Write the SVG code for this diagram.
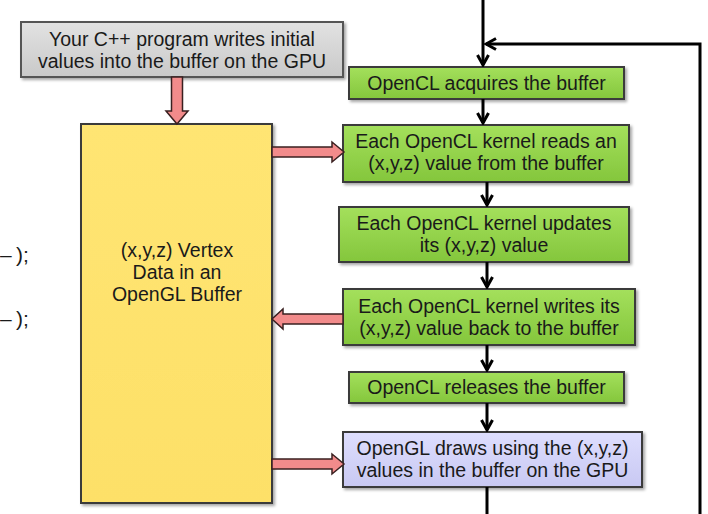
<svg xmlns="http://www.w3.org/2000/svg" width="708" height="514" viewBox="0 0 708 514">
<defs>
<linearGradient id="gGreen" x1="0" y1="0" x2="0" y2="1"><stop offset="0" stop-color="#a4e05c"/><stop offset="1" stop-color="#84c63c"/></linearGradient>
<linearGradient id="gGray" x1="0" y1="0" x2="0" y2="1"><stop offset="0" stop-color="#e2e2e2"/><stop offset="1" stop-color="#c9c9c9"/></linearGradient>
<linearGradient id="gLav" x1="0" y1="0" x2="0" y2="1"><stop offset="0" stop-color="#dedefe"/><stop offset="1" stop-color="#c8c8f2"/></linearGradient>
<linearGradient id="gYel" x1="0" y1="0" x2="0" y2="1"><stop offset="0" stop-color="#ffe573"/><stop offset="1" stop-color="#fde068"/></linearGradient>
<filter id="sh" x="-5%" y="-5%" width="115%" height="125%"><feDropShadow dx="2" dy="2" stdDeviation="1.5" flood-color="#000" flood-opacity="0.35"/></filter>
<marker id="ah" viewBox="0 0 14 14" markerWidth="14" markerHeight="14" refX="12" refY="7" orient="auto" markerUnits="userSpaceOnUse"><path d="M2,1.5 L12,7 L2,12.5" fill="none" stroke="#000" stroke-width="3"/></marker>
</defs>
<style>
.box{stroke:#3a3a3a;stroke-width:2;filter:url(#sh)}
.green{fill:url(#gGreen)}
.gray{fill:url(#gGray);stroke:#555}
.lav{fill:url(#gLav)}
.yel{fill:url(#gYel)}
.t{font-family:"Liberation Sans",Arial,sans-serif;font-size:19.5px;fill:#1a1a1a;text-anchor:middle}
.code{font-family:"Liberation Sans",Arial,sans-serif;font-size:21px;fill:#1a1a1a}
.flow{fill:none;stroke:#000;stroke-width:3}
.red{fill:#f28b8b;stroke:#3a2020;stroke-width:1.5;stroke-linejoin:miter}
</style>
<rect width="708" height="514" fill="#fff"/>

<g id="code-fragments">
<text class="code" y="262"><tspan x="0">–</tspan><tspan x="16">);</tspan></text>
<text class="code" y="326"><tspan x="0">–</tspan><tspan x="16">);</tspan></text>
</g>

<g id="cpp-program">
<rect class="box gray" x="21" y="22" width="322" height="55"/>
<text class="t" x="182" y="46">Your C++ program writes initial</text>
<text class="t" x="182" y="68">values into the buffer on the GPU</text>
</g>

<g id="vertex-buffer">
<rect class="box yel" x="81" y="124" width="191" height="379"/>
<text class="t" x="177" y="257">(x,y,z) Vertex</text>
<text class="t" x="177" y="279">Data in an</text>
<text class="t" x="177" y="301">OpenGL Buffer</text>
</g>

<g id="acquire">
<rect class="box green" x="349" y="67" width="275" height="32"/>
<text class="t" x="486.5" y="90">OpenCL acquires the buffer</text>
</g>

<g id="read">
<rect class="box green" x="343" y="125" width="286" height="57"/>
<text class="t" x="486" y="148">Each OpenCL kernel reads an</text>
<text class="t" x="486" y="170">(x,y,z) value from the buffer</text>
</g>

<g id="update">
<rect class="box green" x="339" y="207" width="290" height="55"/>
<text class="t" x="484" y="230">Each OpenCL kernel updates</text>
<text class="t" x="484" y="252">its (x,y,z) value</text>
</g>

<g id="write">
<rect class="box green" x="343" y="289" width="292" height="56"/>
<text class="t" x="489" y="313">Each OpenCL kernel writes its</text>
<text class="t" x="489" y="335">(x,y,z) value back to the buffer</text>
</g>

<g id="release">
<rect class="box green" x="349" y="372" width="275" height="31"/>
<text class="t" x="486.5" y="394">OpenCL releases the buffer</text>
</g>

<g id="draw">
<rect class="box lav" x="343" y="432" width="299" height="55"/>
<text class="t" x="492.5" y="455">OpenGL draws using the (x,y,z)</text>
<text class="t" x="492.5" y="477">values in the buffer on the GPU</text>
</g>

<g id="connectors">
<path class="flow" d="M483,0 V65" marker-end="url(#ah)"/>
<path class="flow" d="M700,514 V44 H486" marker-end="url(#ah)"/>
<path class="flow" d="M483,99 V123" marker-end="url(#ah)"/>
<path class="flow" d="M487,182 V205" marker-end="url(#ah)"/>
<path class="flow" d="M487,262 V287" marker-end="url(#ah)"/>
<path class="flow" d="M487,345 V370" marker-end="url(#ah)"/>
<path class="flow" d="M487,403 V430" marker-end="url(#ah)"/>
<path class="flow" d="M487,487 V514"/>
<polygon class="red" points="171.5,77 182.5,77 182.5,111 188,111 177,124 166,111 171.5,111"/>
<polygon class="red" points="272,147 332,147 332,142 344,152 332,162 332,157 272,157"/>
<polygon class="red" points="343,314 283,314 283,309 272,319 283,329 283,324 343,324"/>
<polygon class="red" points="272,459 332,459 332,454 344,464 332,474 332,469 272,469"/>
</g>
</svg>
